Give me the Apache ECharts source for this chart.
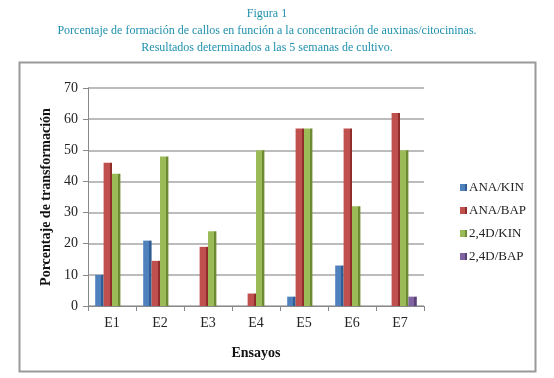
<!DOCTYPE html>
<html>
<head>
<meta charset="utf-8">
<script src="https://cdn.jsdelivr.net/npm/echarts@6/dist/echarts.min.js"></script>
<style>
  html, body { margin: 0; padding: 0; background: #fff; }
  #main { width: 554px; height: 378px; }
</style>
</head>
<body>
<div id="main"></div>
<script>
var ensayos = ['E1', 'E2', 'E3', 'E4', 'E5', 'E6', 'E7'];
var anaKin = [10, 21, 0, 0, 3, 13, 0];
var anaBap = [46, 14.5, 19, 4, 57, 57, 62];
var d24Kin = [42.5, 48, 24, 50, 57, 32, 50];
var d24Bap = [0, 0, 0, 0, 0, 0, 3];

var serif = '"Liberation Serif", "Times New Roman", serif';
var teal = '#1f90ad';

// fake 3D side face with a hard-stop gradient
function face(c, dark) {
    return {
        color: new echarts.graphic.LinearGradient(0, 0, 1, 0, [
            { offset: 0, color: c },
            { offset: 0.72, color: c },
            { offset: 0.72, color: dark },
            { offset: 1, color: dark }
        ])
    };
}

function serie(name, data, c, dark) {
    return {
        name: name,
        type: 'bar',
        data: data,
        barGap: '0%',
        barCategoryGap: '30%',
        itemStyle: face(c, dark)
    };
}

var titleStyle = { fontFamily: serif, fontSize: 12, fontWeight: 'normal', color: teal };

var myChart = echarts.init(document.getElementById('main'));
myChart.setOption({
    animation: false,
    color: ['#4f81bd', '#c0504d', '#9bbb59', '#8064a2'],
    title: [
        { text: 'Figura 1', left: 262, textAlign: 'center', top: 3, textStyle: titleStyle },
        { text: 'Porcentaje de formación de callos en función a la concentración de auxinas/citocininas.',
          left: 262, textAlign: 'center', top: 20, textStyle: titleStyle },
        { text: 'Resultados determinados a las 5 semanas de cultivo.',
          left: 262, textAlign: 'center', top: 37, textStyle: titleStyle }
    ],
    graphic: [{
        type: 'rect',
        shape: { x: 19.5, y: 62.5, width: 516, height: 309 },
        style: { fill: 'none', stroke: '#9a9a9a', lineWidth: 2 },
        z: -1
    }],
    legend: {
        orient: 'vertical',
        left: 455,
        top: 176,
        itemWidth: 7,
        itemHeight: 7,
        itemGap: 10,
        icon: 'rect',
        textStyle: { fontFamily: serif, fontSize: 13, color: '#222', padding: [0, 0, 0, -3] },
        data: ['ANA/KIN', 'ANA/BAP', '2,4D/KIN', '2,4D/BAP']
    },
    grid: { left: 88, right: 130, top: 88, bottom: 72 },
    xAxis: {
        type: 'category',
        data: ensayos,
        name: 'Ensayos',
        nameLocation: 'middle',
        nameGap: 40,
        nameTextStyle: { fontFamily: serif, fontSize: 14, fontWeight: 'bold', color: '#111' },
        axisLine: { lineStyle: { color: '#888' } },
        axisTick: { show: true, length: 5, lineStyle: { color: '#888' } },
        axisLabel: { fontFamily: serif, fontSize: 14, color: '#222', margin: 10 }
    },
    yAxis: {
        type: 'value',
        min: 0,
        max: 70,
        interval: 10,
        name: 'Porcentaje de transformación',
        nameLocation: 'middle',
        nameGap: 33,
        nameTextStyle: { fontFamily: serif, fontSize: 14, fontWeight: 'bold', color: '#111' },
        axisLine: { show: true, lineStyle: { color: '#888' } },
        axisTick: { show: true, length: 5, lineStyle: { color: '#888' } },
        axisLabel: { fontFamily: serif, fontSize: 14, color: '#222', margin: 10 },
        splitLine: { lineStyle: { color: '#a6a6a6', width: 1.5 } }
    },
    series: [
        serie('ANA/KIN', anaKin, '#4f81bd', '#2f5d94'),
        serie('ANA/BAP', anaBap, '#c0504d', '#8e2d2a'),
        serie('2,4D/KIN', d24Kin, '#9bbb59', '#6f8a35'),
        serie('2,4D/BAP', d24Bap, '#8064a2', '#5a4278')
    ]
});
</script>
</body>
</html>
